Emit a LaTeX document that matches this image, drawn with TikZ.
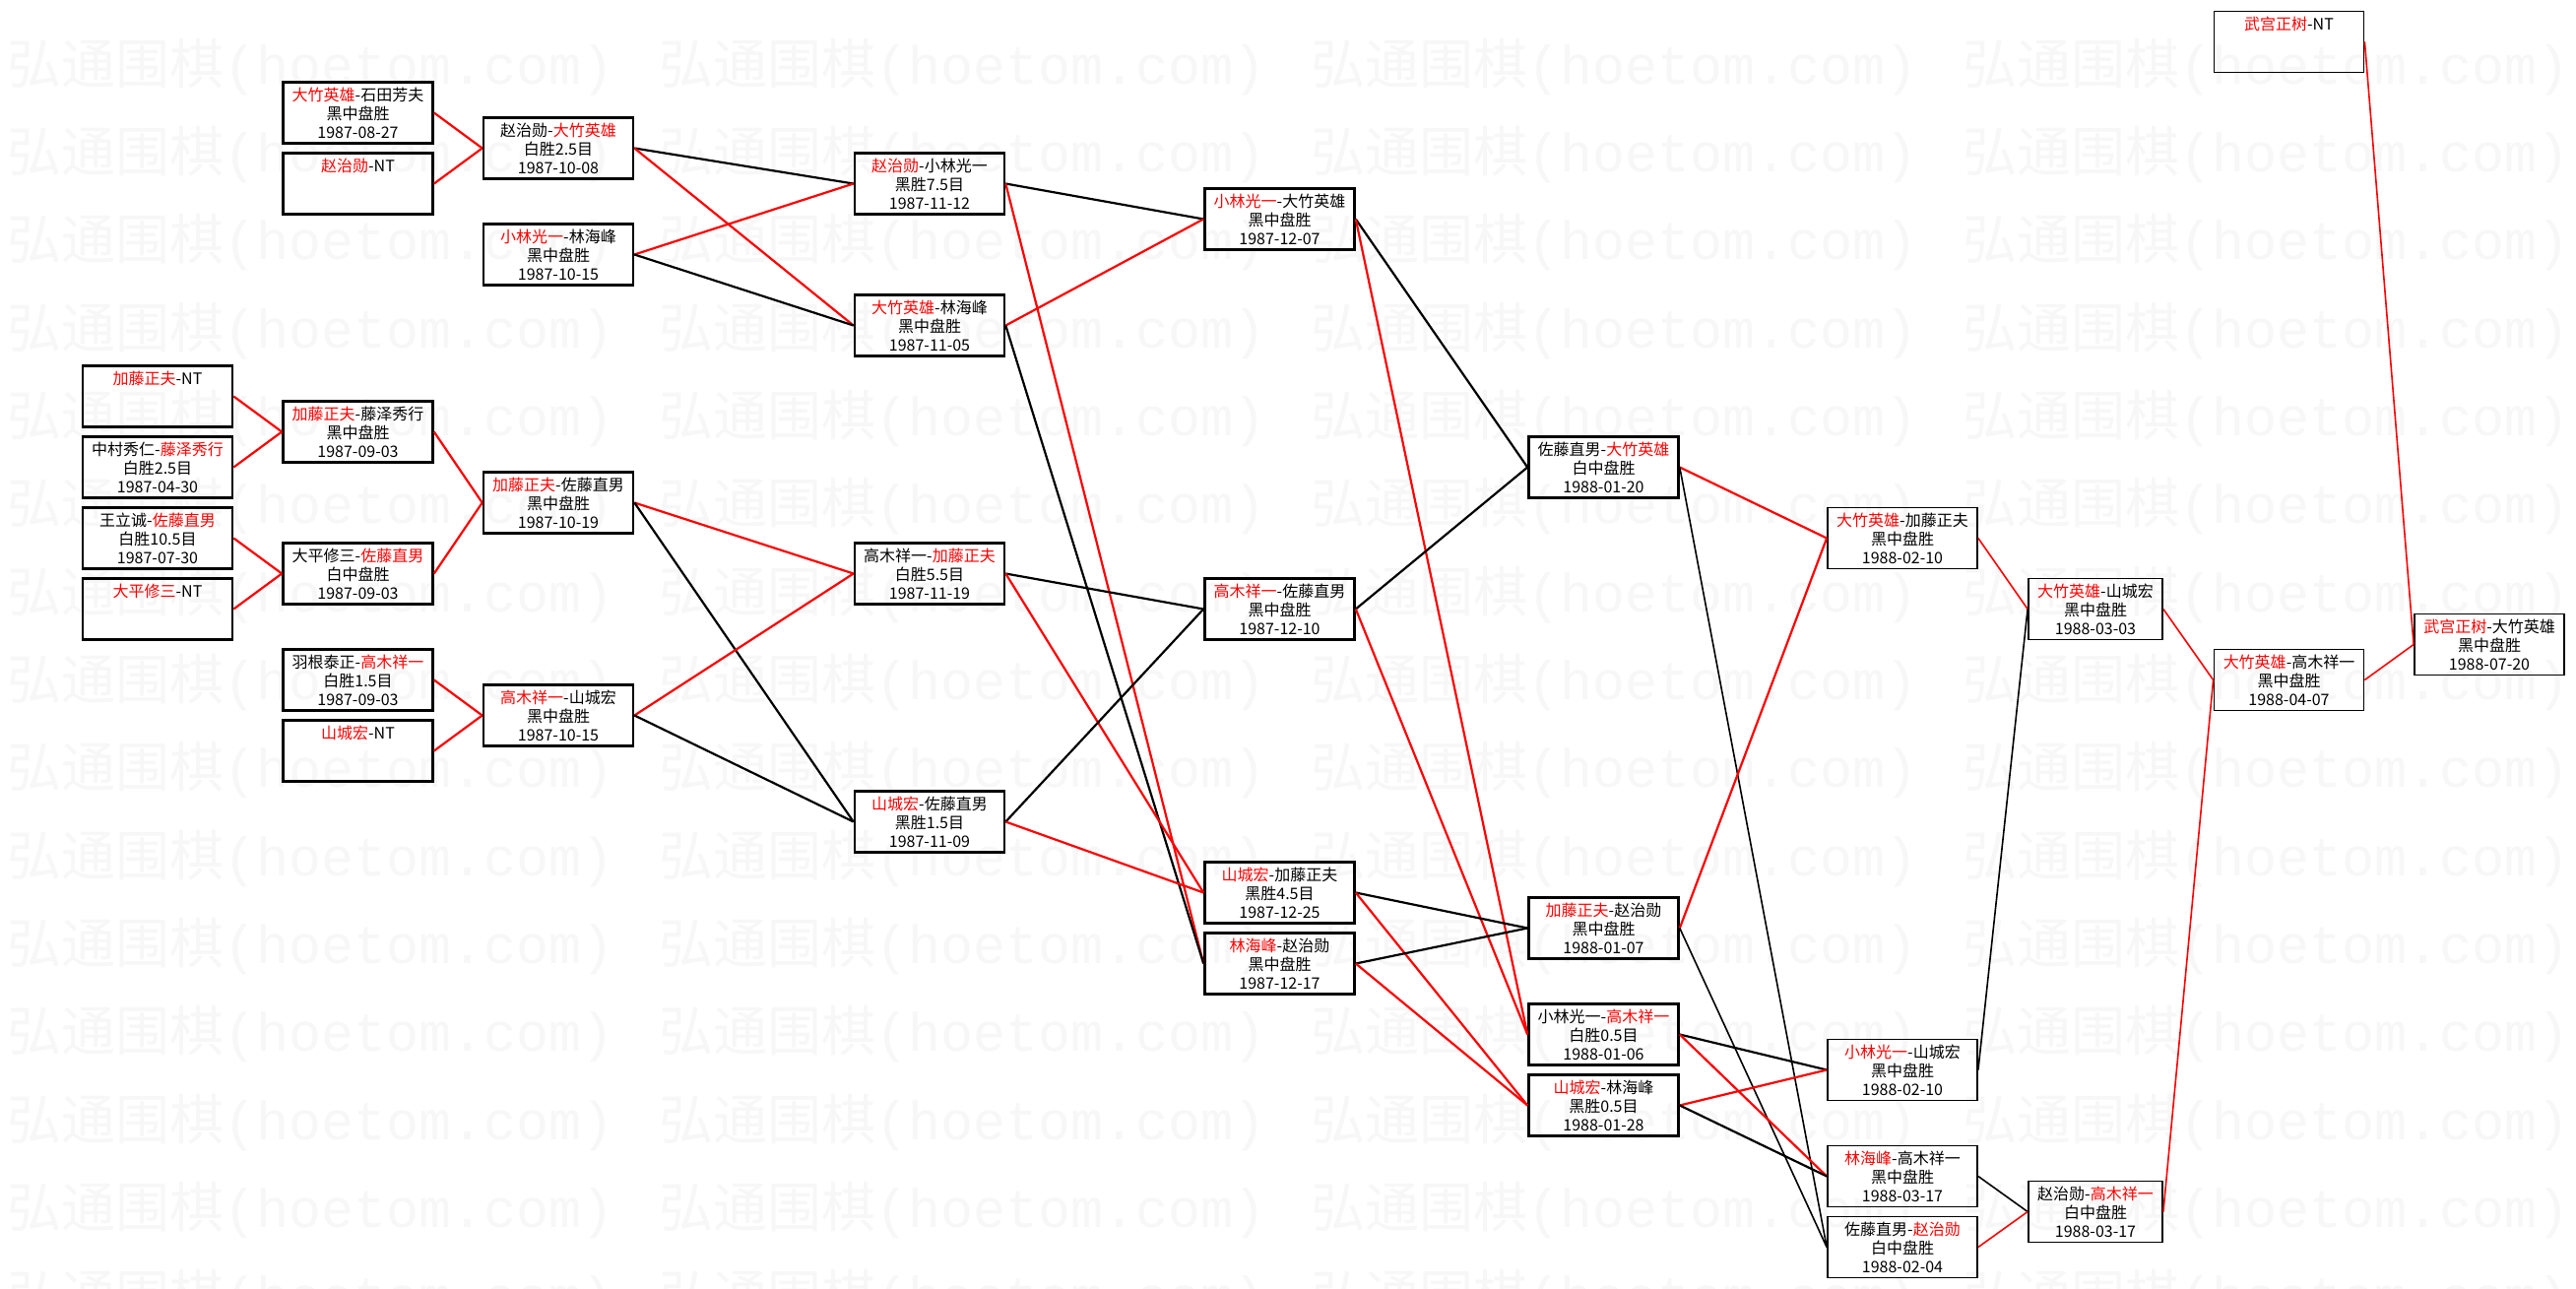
\documentclass[tikz,border=0pt]{standalone}
\usepackage{fontspec}
\setmainfont{Noto Sans CJK SC}
\newfontfamily\wmlatin{Liberation Mono}

\newcommand{\hl}[1]{\textcolor{red}{#1}}

\begin{document}
\begin{tikzpicture}[x=1pt, y=-1pt,
    wmtext/.style={anchor=west, inner sep=0pt, text=black!3, font=\fontsize{55}{55}\selectfont},
    game/.style={draw, line width=2.6pt, minimum width=152pt, minimum height=62pt, inner sep=0pt, align=center, font=\fontsize{16}{19}\selectfont},
    lategame/.style={game, line width=1.8pt},
    narrowgame/.style={lategame, minimum width=136pt},
    won/.style={red, line width=2.2pt},
    lost/.style={black, line width=2.2pt},
    wonthin/.style={red, line width=1.6pt},
    lostthin/.style={black, line width=1.6pt}]

    \useasboundingbox[fill=white] (0,0) rectangle (2616,1309);

    % watermark
    \foreach \r in {0,...,14}
      \foreach \c in {0,...,3}
        \node[wmtext] (wm-\r-\c) at (7+662*\c, 68+89.3*\r) {弘通围棋{\wmlatin(hoetom.com)}};

    % first round
    \node[game] (katoBye)  at (160,402.5) {\hl{加藤正夫}-NT\\\mbox{}\\\mbox{}};
    \node[game] (nakaFuji) at (160,474.5) {中村秀仁-\hl{藤泽秀行}\\白胜2.5目\\1987-04-30};
    \node[game] (wangSato) at (160,546.5) {王立诚-\hl{佐藤直男}\\白胜10.5目\\1987-07-30};
    \node[game] (ohiraBye) at (160,618.5) {\hl{大平修三}-NT\\\mbox{}\\\mbox{}};

    \node[game] (otakeIshida) at (363.5,114.5) {\hl{大竹英雄}-石田芳夫\\黑中盘胜\\1987-08-27};
    \node[game] (choBye)      at (363.5,186.5) {\hl{赵治勋}-NT\\\mbox{}\\\mbox{}};
    \node[game] (katoFuji)    at (363.5,438.5) {\hl{加藤正夫}-藤泽秀行\\黑中盘胜\\1987-09-03};
    \node[game] (ohiraSato)   at (363.5,582.5) {大平修三-\hl{佐藤直男}\\白中盘胜\\1987-09-03};
    \node[game] (haneTaka)    at (363.5,690.5) {羽根泰正-\hl{高木祥一}\\白胜1.5目\\1987-09-03};
    \node[game] (yamaBye)     at (363.5,762.5) {\hl{山城宏}-NT\\\mbox{}\\\mbox{}};

    \node[game] (choOtake) at (567,150.5) {赵治勋-\hl{大竹英雄}\\白胜2.5目\\1987-10-08};
    \node[game] (koboRin)  at (567,258.5) {\hl{小林光一}-林海峰\\黑中盘胜\\1987-10-15};
    \node[game] (katoSato) at (567,510.5) {\hl{加藤正夫}-佐藤直男\\黑中盘胜\\1987-10-19};
    \node[game] (takaYama) at (567,726.5) {\hl{高木祥一}-山城宏\\黑中盘胜\\1987-10-15};

    \node[game] (choKobo)  at (944,186.5) {\hl{赵治勋}-小林光一\\黑胜7.5目\\1987-11-12};
    \node[game] (otakeRin) at (944,330.5) {\hl{大竹英雄}-林海峰\\黑中盘胜\\1987-11-05};
    \node[game] (takaKato) at (944,582.5) {高木祥一-\hl{加藤正夫}\\白胜5.5目\\1987-11-19};
    \node[game] (yamaSato) at (944,834.5) {\hl{山城宏}-佐藤直男\\黑胜1.5目\\1987-11-09};

    \node[game] (koboOtake) at (1299.5,222.5) {\hl{小林光一}-大竹英雄\\黑中盘胜\\1987-12-07};
    \node[game] (takaSato)  at (1299.5,618.5) {\hl{高木祥一}-佐藤直男\\黑中盘胜\\1987-12-10};
    \node[game] (yamaKato)  at (1299.5,906.5) {\hl{山城宏}-加藤正夫\\黑胜4.5目\\1987-12-25};
    \node[game] (rinCho)    at (1299.5,978.5) {\hl{林海峰}-赵治勋\\黑中盘胜\\1987-12-17};

    \node[game] (satoOtake) at (1628.5,474.5) {佐藤直男-\hl{大竹英雄}\\白中盘胜\\1988-01-20};
    \node[game] (katoCho)   at (1628.5,942.5) {\hl{加藤正夫}-赵治勋\\黑中盘胜\\1988-01-07};
    \node[game] (koboTaka)  at (1628.5,1050.5) {小林光一-\hl{高木祥一}\\白胜0.5目\\1988-01-06};
    \node[game] (yamaRin)   at (1628.5,1122.5) {\hl{山城宏}-林海峰\\黑胜0.5目\\1988-01-28};

    \node[lategame] (otakeKato) at (1932,546.5) {\hl{大竹英雄}-加藤正夫\\黑中盘胜\\1988-02-10};
    \node[lategame] (koboYama)  at (1932,1086.5) {\hl{小林光一}-山城宏\\黑中盘胜\\1988-02-10};
    \node[lategame] (rinTaka)   at (1932,1194.5) {\hl{林海峰}-高木祥一\\黑中盘胜\\1988-03-17};
    \node[lategame] (satoCho)   at (1932,1266.5) {佐藤直男-\hl{赵治勋}\\白中盘胜\\1988-02-04};

    \node[narrowgame] (otakeYama) at (2128,618.5) {\hl{大竹英雄}-山城宏\\黑中盘胜\\1988-03-03};
    \node[narrowgame] (choTaka)   at (2128,1230.5) {赵治勋-\hl{高木祥一}\\白中盘胜\\1988-03-17};

    \node[lategame] (takeBye)   at (2324.5,42.5) {\hl{武宫正树}-NT\\\mbox{}\\\mbox{}};
    \node[lategame] (otakeTaka) at (2324.5,690.5) {\hl{大竹英雄}-高木祥一\\黑中盘胜\\1988-04-07};

    \node[lategame] (takeOtake) at (2528,654.5) {\hl{武宫正树}-大竹英雄\\黑中盘胜\\1988-07-20};

    % winners in red, losers in black
    \draw[won] (katoBye.east) -- (katoFuji.west);
    \draw[won] (nakaFuji.east) -- (katoFuji.west);
    \draw[won] (wangSato.east) -- (ohiraSato.west);
    \draw[won] (ohiraBye.east) -- (ohiraSato.west);

    \draw[won] (otakeIshida.east) -- (choOtake.west);
    \draw[won] (choBye.east) -- (choOtake.west);
    \draw[won] (katoFuji.east) -- (katoSato.west);
    \draw[won] (ohiraSato.east) -- (katoSato.west);
    \draw[won] (haneTaka.east) -- (takaYama.west);
    \draw[won] (yamaBye.east) -- (takaYama.west);

    \draw[lost] (choOtake.east) -- (choKobo.west);
    \draw[won] (choOtake.east) -- (otakeRin.west);
    \draw[won] (koboRin.east) -- (choKobo.west);
    \draw[lost] (koboRin.east) -- (otakeRin.west);
    \draw[won] (katoSato.east) -- (takaKato.west);
    \draw[lost] (katoSato.east) -- (yamaSato.west);
    \draw[won] (takaYama.east) -- (takaKato.west);
    \draw[lost] (takaYama.east) -- (yamaSato.west);

    \draw[lost] (choKobo.east) -- (koboOtake.west);
    \draw[won] (choKobo.east) -- (rinCho.west);
    \draw[won] (otakeRin.east) -- (koboOtake.west);
    \draw[lost] (otakeRin.east) -- (rinCho.west);
    \draw[lost] (takaKato.east) -- (takaSato.west);
    \draw[won] (takaKato.east) -- (yamaKato.west);
    \draw[lost] (yamaSato.east) -- (takaSato.west);
    \draw[won] (yamaSato.east) -- (yamaKato.west);

    \draw[lost] (koboOtake.east) -- (satoOtake.west);
    \draw[won] (koboOtake.east) -- (koboTaka.west);
    \draw[lost] (takaSato.east) -- (satoOtake.west);
    \draw[won] (takaSato.east) -- (koboTaka.west);
    \draw[lost] (yamaKato.east) -- (katoCho.west);
    \draw[won] (yamaKato.east) -- (yamaRin.west);
    \draw[lost] (rinCho.east) -- (katoCho.west);
    \draw[won] (rinCho.east) -- (yamaRin.west);

    \draw[won] (satoOtake.east) -- (otakeKato.west);
    \draw[lostthin] (satoOtake.east) -- (satoCho.west);
    \draw[won] (katoCho.east) -- (otakeKato.west);
    \draw[lostthin] (katoCho.east) -- (satoCho.west);
    \draw[lost] (koboTaka.east) -- (koboYama.west);
    \draw[won] (koboTaka.east) -- (rinTaka.west);
    \draw[won] (yamaRin.east) -- (koboYama.west);
    \draw[lost] (yamaRin.east) -- (rinTaka.west);

    \draw[wonthin] (otakeKato.east) -- (otakeYama.west);
    \draw[lostthin] (koboYama.east) -- (otakeYama.west);
    \draw[lostthin] (rinTaka.east) -- (choTaka.west);
    \draw[wonthin] (satoCho.east) -- (choTaka.west);

    \draw[wonthin] (otakeYama.east) -- (otakeTaka.west);
    \draw[wonthin] (choTaka.east) -- (otakeTaka.west);

    \draw[wonthin] (takeBye.east) -- (takeOtake.west);
    \draw[wonthin] (otakeTaka.east) -- (takeOtake.west);
\end{tikzpicture}
\end{document}
